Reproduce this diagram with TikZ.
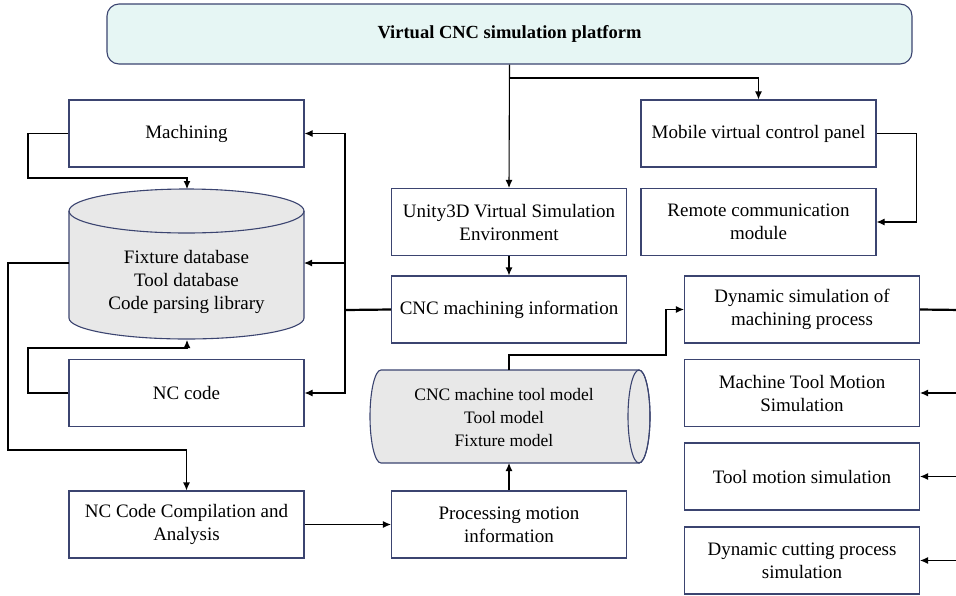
\documentclass[tikz,border=0pt]{standalone}
\usepackage{fontspec}
\setmainfont{Liberation Serif}
\usetikzlibrary{arrows.meta}
\definecolor{boxline}{HTML}{3B4470}
\definecolor{platfill}{HTML}{E6F6F4}
\definecolor{dbfill}{HTML}{E8E8E8}
\tikzset{
  box/.style={draw=boxline,line width=1.1pt,fill=white,minimum width=235pt,minimum height=67pt,inner sep=0pt,align=center,font=\fontsize{19}{23}\selectfont},
  arr/.style={line width=1.1pt,-{Latex[length=8pt,width=7pt]}},
  ln/.style={line width=1.1pt},
  bus/.style={line width=2.2pt}
}
\begin{document}
\begin{tikzpicture}[x=1pt,y=-1pt]
  \useasboundingbox (0,0) rectangle (956,595);
  \node[box,rounded corners=12pt,fill=platfill,minimum width=805pt,minimum height=60pt,font=\bfseries\fontsize{18.5}{23}\selectfont] (plat) at (509.5,34) {Virtual CNC simulation platform};
  \node[box] (mach) at (186.5,133.5) {Machining};
  \node[box] (mobile) at (758.5,133.5) {Mobile virtual control panel};
  \node[box] (unity) at (509,222) {Unity3D Virtual Simulation\\Environment};
  \node[box] (remote) at (758.5,222) {Remote communication\\module};
  \node[box] (cncinfo) at (509,309.5) {CNC machining information};
  \node[box] (dynsim) at (802,309.5) {Dynamic simulation of\\machining process};
  \node[box] (nccode) at (186.5,393) {NC code};
  \node[box] (mtsim) at (802,393) {Machine Tool Motion\\Simulation};
  \node[box] (toolsim) at (802,476.5) {Tool motion simulation};
  \node[box] (ncana) at (186.5,524.5) {NC Code Compilation and\\Analysis};
  \node[box] (procinfo) at (509,524.5) {Processing motion\\information};
  \node[box] (cutsim) at (802,560.5) {Dynamic cutting process\\simulation};
  \draw[boxline,line width=1.1pt,fill=dbfill] (69,211) -- (69,318) arc[start angle=180,end angle=360,x radius=117.5pt,y radius=21pt] -- (304,211) arc[start angle=0,end angle=180,x radius=117.5pt,y radius=22pt] -- cycle;
  \draw[boxline,line width=1.1pt] (69,211) arc[start angle=180,end angle=360,x radius=117.5pt,y radius=22pt];
  \node[align=center,font=\fontsize{19}{23}\selectfont] (db) at (186.5,282) {Fixture database\\Tool database\\Code parsing library};
  \coordinate (db-top) at (187,189);
  \coordinate (db-bot) at (187,340);
  \coordinate (db-left) at (69,263);
  \coordinate (db-right) at (304,263);
  \draw[boxline,line width=1.1pt,fill=dbfill] (381,370) -- (639,370) arc[start angle=90,end angle=-90,x radius=11pt,y radius=46.5pt] -- (381,463) arc[start angle=270,end angle=90,x radius=11pt,y radius=46.5pt] -- cycle;
  \draw[boxline,line width=1.1pt] (639,416.5) ellipse[x radius=11pt,y radius=46.5pt];
  \node[align=center,font=\fontsize{17.5}{23}\selectfont] (model) at (504,418) {CNC machine tool model\\Tool model\\Fixture model};
  \coordinate (model-top) at (509,370);
  \coordinate (model-bot) at (509,463);
  \coordinate (split) at (509,78);
  \coordinate (lbus) at (345,310);
  \coordinate (rbus) at (962,310);
  \draw[arr] (plat.south) -- (unity.north);
  \draw[arr] (split) -| (mobile.north);
  \draw[arr] (mobile.east) -- ++(40,0) |- (remote.east);
  \draw[arr] (unity.south) -- (cncinfo.north);
  \draw[bus] (cncinfo.west) -- (lbus);
  \draw[ln] (345,133.5) -- (345,393);
  \draw[arr] (lbus) |- (mach.east);
  \draw[arr] (lbus) |- (db-right);
  \draw[arr] (lbus) |- (nccode.east);
  \draw[arr] (mach.west) -| (28,178) -| (db-top);
  \draw[arr] (nccode.west) -| (28,348) -| (db-bot);
  \draw[arr] (db-left) -| (8,450) -| (ncana.north);
  \draw[arr] (ncana.east) -- (procinfo.west);
  \draw[arr] (procinfo.north) -- (model-bot);
  \draw[arr] (model-top) |- (666,355) |- (dynsim.west);
  \draw[bus] (dynsim.east) -- (rbus);
  \draw[ln] (rbus) -- (962,560.5);
  \draw[arr] (rbus) |- (mtsim.east);
  \draw[arr] (rbus) |- (toolsim.east);
  \draw[arr] (rbus) |- (cutsim.east);
\end{tikzpicture}
\end{document}
